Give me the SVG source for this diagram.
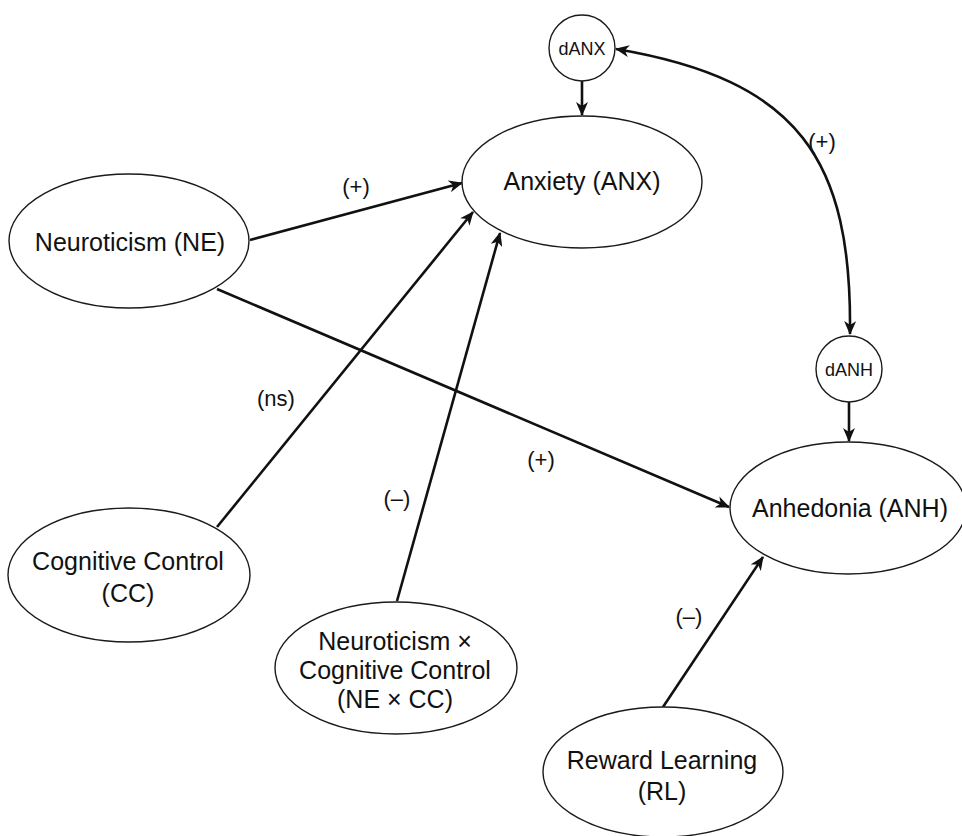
<svg xmlns="http://www.w3.org/2000/svg" width="962" height="836" viewBox="0 0 962 836">
  <defs>
    <style>
      .node { fill: #ffffff; stroke: #1a1a1a; stroke-width: 1.4; }
      .nt { font-family: "Liberation Sans", Arial, sans-serif; font-size: 25px; fill: #111; text-anchor: middle; }
      .st { font-family: "Liberation Sans", Arial, sans-serif; font-size: 18px; fill: #111; text-anchor: middle; }
      .lbl { font-family: "Liberation Sans", Arial, sans-serif; font-size: 22px; fill: #111; text-anchor: middle; }
      .edge { fill: none; stroke: #111; stroke-width: 2.6; marker-end: url(#arr); }
    </style>
    <marker id="arr" viewBox="0 0 14 12" refX="13" refY="6" markerWidth="14" markerHeight="12" orient="auto-start-reverse" markerUnits="userSpaceOnUse">
      <path d="M0,0 L14,6 L0,12 L4,6 z" fill="#111"/>
    </marker>
  </defs>
  <rect x="0" y="0" width="962" height="836" fill="#ffffff"/>

  <g id="connectors">
    <line class="edge" x1="250" y1="240" x2="462" y2="183"/>
    <line class="edge" x1="217" y1="289" x2="729" y2="507"/>
    <line class="edge" x1="217" y1="527" x2="473" y2="212"/>
    <line class="edge" x1="397" y1="601" x2="500" y2="233"/>
    <line class="edge" x1="663" y1="707" x2="763" y2="557"/>
    <line class="edge" x1="582" y1="81" x2="582" y2="115"/>
    <line class="edge" x1="849" y1="402" x2="849" y2="441"/>
    <path class="edge" d="M 616 49 C 800 80, 852 160, 850 334" marker-start="url(#arr)"/>
    <text class="lbl" x="356" y="194">(+)</text>
    <text class="lbl" x="276" y="406">(ns)</text>
    <text class="lbl" x="397" y="506">(–)</text>
    <text class="lbl" x="541" y="467">(+)</text>
    <text class="lbl" x="689" y="624">(–)</text>
    <text class="lbl" x="822" y="149">(+)</text>
  </g>

  <g id="dANX">
    <circle class="node" cx="582" cy="48" r="33"/>
    <text class="st" x="582" y="55">dANX</text>
  </g>
  <g id="ANX">
    <ellipse class="node" cx="582" cy="182" rx="120" ry="66"/>
    <text class="nt" x="582" y="190">Anxiety (ANX)</text>
  </g>
  <g id="dANH">
    <circle class="node" cx="849" cy="369" r="33"/>
    <text class="st" x="849" y="376">dANH</text>
  </g>
  <g id="ANH">
    <ellipse class="node" cx="848" cy="508" rx="118" ry="66"/>
    <text class="nt" x="850" y="517">Anhedonia (ANH)</text>
  </g>
  <g id="NE">
    <ellipse class="node" cx="129" cy="241" rx="120" ry="67"/>
    <text class="nt" x="130" y="251">Neuroticism (NE)</text>
  </g>
  <g id="CC">
    <ellipse class="node" cx="129" cy="575" rx="121" ry="67"/>
    <text class="nt" x="128" y="570">Cognitive Control</text>
    <text class="nt" x="128" y="602">(CC)</text>
  </g>
  <g id="NExCC">
    <ellipse class="node" cx="396" cy="668" rx="121" ry="66"/>
    <text class="nt" x="395" y="650">Neuroticism ×</text>
    <text class="nt" x="395" y="679">Cognitive Control</text>
    <text class="nt" x="395" y="708">(NE × CC)</text>
  </g>
  <g id="RL">
    <ellipse class="node" cx="663" cy="772" rx="120" ry="65"/>
    <text class="nt" x="662" y="769">Reward Learning</text>
    <text class="nt" x="662" y="800">(RL)</text>
  </g>
</svg>
